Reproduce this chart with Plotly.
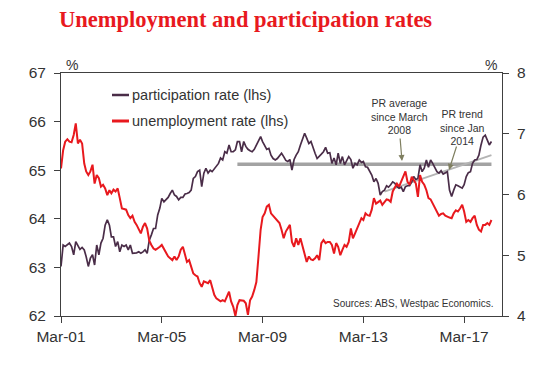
import pandas as pd
import plotly.graph_objects as go

# Monthly data, Mar 2001 onward
start_month = "2001-03-01"

participation = [
    63.02, 63.46, 63.43, 63.46, 63.50, 63.43, 63.26, 63.53, 63.46, 63.37,
    63.41, 63.36, 63.22, 63.02, 63.19, 63.26, 63.05, 63.46, 63.26, 63.50,
    63.60, 63.87, 63.98, 63.87, 63.63, 63.63, 63.43, 63.53, 63.32, 63.46,
    63.43, 63.46, 63.36, 63.46, 63.29, 63.29, 63.30, 63.32, 63.29, 63.32,
    63.36, 63.29, 63.56, 63.67, 63.80, 63.80, 64.08, 64.22, 64.42, 64.35,
    64.39, 64.44, 64.52, 64.59, 64.49, 64.46, 64.39, 64.44, 64.44, 64.51,
    64.52, 64.54, 64.59, 64.83, 64.87, 64.97, 65.00, 64.66, 64.94, 65.04,
    64.94, 65.00, 64.97, 65.02, 65.07, 65.14, 65.25, 65.21, 65.38, 65.35,
    65.52, 65.38, 65.38, 65.42, 65.59, 65.59, 65.38, 65.59, 65.49, 65.43,
    65.40, 65.38, 65.43, 65.52, 65.62, 65.69, 65.59, 65.52, 65.43, 65.45,
    65.31, 65.24, 65.21, 65.24, 65.29, 65.35, 65.28, 65.20, 65.18, 65.22,
    65.00, 65.22, 65.31, 65.38, 65.52, 65.62, 65.76, 65.66, 65.55, 65.59,
    65.45, 65.35, 65.24, 65.28, 65.33, 65.38, 65.47, 65.35, 65.36, 65.14,
    65.25, 65.11, 65.35, 65.14, 65.28, 65.11, 65.21, 65.28, 65.22, 65.04,
    65.14, 65.11, 65.21, 65.16, 65.18, 65.07, 65.06, 64.97, 64.90, 64.76,
    64.83, 64.73, 64.49, 64.56, 64.59, 64.68, 64.65, 64.70, 64.76, 64.73,
    64.66, 64.63, 64.65, 64.56, 64.66, 64.68, 64.68, 64.76, 64.87, 64.81,
    64.83, 65.11, 64.97, 65.04, 65.21, 65.06, 65.21, 65.14, 65.06, 64.97,
    64.94, 64.99, 64.92, 64.94, 64.97, 64.59, 64.46, 64.59, 64.70, 64.68,
    64.65, 64.63, 64.70, 64.87, 64.95, 64.97, 65.14, 65.21, 65.22, 65.31,
    65.52, 65.68, 65.72, 65.62, 65.52, 65.59,
]

unemployment = [
    6.43, 6.73, 6.87, 6.91, 6.87, 6.86, 6.98, 7.17, 6.84, 6.90,
    6.84, 6.51, 6.38, 6.32, 6.38, 6.49, 6.18, 6.32, 6.27, 6.13,
    6.16, 6.10, 5.99, 6.07, 6.02, 6.08, 6.05, 6.10, 5.94, 5.77,
    5.76, 5.75, 5.66, 5.61, 5.65, 5.55, 5.50, 5.44, 5.36, 5.47,
    5.53, 5.44, 5.24, 5.17, 5.11, 5.09, 5.11, 5.14, 5.17, 5.11,
    5.06, 4.98, 4.95, 4.92, 4.98, 4.92, 4.98, 5.09, 5.14, 5.00,
    4.89, 4.92, 4.81, 4.70, 4.67, 4.65, 4.54, 4.48, 4.57, 4.55,
    4.54, 4.59, 4.45, 4.35, 4.29, 4.26, 4.24, 4.26, 4.24, 4.32,
    4.40, 4.24, 4.15, 4.00, 4.18, 4.26, 4.25, 4.25, 4.21, 4.02,
    4.26, 4.32, 4.43, 4.56, 4.98, 5.42, 5.63, 5.69, 5.80, 5.83,
    5.69, 5.65, 5.62, 5.58, 5.53, 5.42, 5.28, 5.39, 5.44, 5.50,
    5.22, 5.14, 5.28, 5.17, 5.28, 5.14, 4.98, 4.89, 4.98, 4.93,
    4.92, 4.95, 5.00, 4.92, 5.20, 5.25, 5.20, 5.22, 5.22, 5.17,
    5.03, 5.20, 5.14, 5.00, 5.09, 5.17, 5.14, 5.22, 5.44, 5.28,
    5.36, 5.44, 5.55, 5.61, 5.58, 5.69, 5.66, 5.65, 5.75, 5.94,
    5.85, 5.88, 5.90, 5.83, 5.87, 5.92, 5.91, 5.88, 6.05, 6.13,
    6.18, 6.13, 6.21, 6.29, 6.38, 6.21, 6.16, 6.29, 6.24, 6.18,
    5.96, 6.32, 6.21, 6.16, 6.07, 5.94, 5.92, 5.85, 5.77, 5.69,
    5.65, 5.68, 5.69, 5.65, 5.63, 5.62, 5.61, 5.69, 5.74, 5.72,
    5.77, 5.83, 5.72, 5.55, 5.58, 5.55, 5.61, 5.65, 5.50, 5.42,
    5.39, 5.50, 5.50, 5.53, 5.50, 5.58,
]

# PR average since March 2008 and PR trend since Jan 2014
pr_avg_dates = ["2008-03-01", "2018-04-01"]
pr_avg_values = [65.12, 65.12]
pr_trend_dates = ["2014-01-01", "2018-04-01"]
pr_trend_values = [64.56, 65.31]

x_tick_dates = ["2001-03-01", "2005-03-01", "2009-03-01", "2013-03-01", "2017-03-01"]
x_tick_labels = ["Mar-01", "Mar-05", "Mar-09", "Mar-13", "Mar-17"]
left_ticks = [62, 63, 64, 65, 66, 67]
right_ticks = [4, 5, 6, 7, 8]

dates = pd.date_range(start_month, periods=len(participation), freq="MS")

PURPLE = "#4a2d48"
RED = "#e8191e"
AX = "#404040"
TXT = "#333333"
FONT = "Liberation Sans, Arial, sans-serif"

fig = go.Figure()
fig.add_trace(go.Scatter(x=pr_avg_dates, y=pr_avg_values, mode="lines",
                         line=dict(color="#a3a3a3", width=3.5), showlegend=False, yaxis="y"))
fig.add_trace(go.Scatter(x=pr_trend_dates, y=pr_trend_values, mode="lines",
                         line=dict(color="#b4b4b4", width=2), showlegend=False, yaxis="y"))
fig.add_trace(go.Scatter(x=dates, y=participation, mode="lines", name="participation rate (lhs)",
                         line=dict(color=PURPLE, width=1.7), showlegend=False, yaxis="y"))
fig.add_trace(go.Scatter(x=dates, y=unemployment, mode="lines", name="unemployment rate (lhs)",
                         line=dict(color=RED, width=2), showlegend=False, yaxis="y2"))

L, R, T, B = 61, 40, 73, 52
W, H = 542, 368
pw, ph = W - L - R, H - T - B


def px(x):
    return (x - L) / pw


def py(y):
    return (H - B - y) / ph


shapes = [
    dict(type="line", xref="paper", yref="paper", x0=px(112), x1=px(129), y0=py(95), y1=py(95),
         line=dict(color=PURPLE, width=2.5)),
    dict(type="line", xref="paper", yref="paper", x0=px(112), x1=px(129), y0=py(121), y1=py(121),
         line=dict(color=RED, width=3)),
]

annotations = [
    dict(text="participation rate (lhs)", xref="paper", yref="paper", x=px(130), y=py(95),
         xanchor="left", yanchor="middle", showarrow=False, font=dict(size=14.5, color=TXT, family=FONT)),
    dict(text="unemployment rate (lhs)", xref="paper", yref="paper", x=px(130), y=py(121),
         xanchor="left", yanchor="middle", showarrow=False, font=dict(size=14.5, color=TXT, family=FONT)),
    dict(text="%", xref="paper", yref="paper", x=px(72), y=py(65), xanchor="center", yanchor="middle",
         showarrow=False, font=dict(size=14, color=TXT, family=FONT)),
    dict(text="%", xref="paper", yref="paper", x=px(491), y=py(65), xanchor="center", yanchor="middle",
         showarrow=False, font=dict(size=14, color=TXT, family=FONT)),
    dict(text="PR average<br>since March<br>2008", xref="paper", yref="paper", x=px(399), y=py(116),
         xanchor="center", yanchor="middle", showarrow=False, align="center",
         font=dict(size=10.5, color=TXT, family=FONT)),
    dict(text="PR trend<br>since Jan<br>2014", xref="paper", yref="paper", x=px(462), y=py(127),
         xanchor="center", yanchor="middle", showarrow=False, align="center",
         font=dict(size=10.5, color=TXT, family=FONT)),
    dict(text="", xref="paper", yref="paper", x=px(402), y=py(161), ax=-2, ay=-24,
         showarrow=True, arrowhead=2, arrowsize=1, arrowwidth=1.2, arrowcolor="#7f7f60"),
    dict(text="", xref="paper", yref="paper", x=px(449), y=py(170), ax=8, ay=-25,
         showarrow=True, arrowhead=2, arrowsize=1, arrowwidth=1.2, arrowcolor="#7f7f60"),
    dict(text="Sources: ABS, Westpac Economics.", xref="paper", yref="paper", x=px(495), y=py(303),
         xanchor="right", yanchor="middle", showarrow=False, font=dict(size=10, color=TXT, family=FONT)),
]

fig.update_layout(
    width=W, height=H,
    margin=dict(l=L, r=R, t=T, b=B),
    paper_bgcolor="white", plot_bgcolor="white",
    title=dict(text="<b>Unemployment and participation rates</b>", xref="container", yref="container",
               x=59 / W, xanchor="left", y=1 - 19 / H, yanchor="middle",
               font=dict(family="Liberation Serif, Times New Roman, serif", size=22.5, color="#e8191e")),
    font=dict(family=FONT, color=TXT),
    showlegend=False,
    hovermode=False,
    shapes=shapes,
    annotations=annotations,
    xaxis=dict(type="date", range=["2001-03-01", "2018-09-01"], tickvals=x_tick_dates,
               ticktext=x_tick_labels, ticks="outside", ticklen=6, tickcolor=AX, showline=True,
               linecolor=AX, linewidth=1, mirror=True, showgrid=False, zeroline=False,
               tickfont=dict(size=15.5, color=TXT, family=FONT)),
    yaxis=dict(range=[62, 67], tickvals=left_ticks, ticks="outside", ticklen=6, tickcolor=AX,
               showline=True, linecolor=AX, linewidth=1, showgrid=False, zeroline=False,
               ticklabelstandoff=5, tickfont=dict(size=15.5, color=TXT, family=FONT)),
    yaxis2=dict(range=[4, 8], tickvals=right_ticks, overlaying="y", side="right", ticks="outside",
                ticklen=6, tickcolor=AX, showline=True, linecolor=AX, linewidth=1, showgrid=False,
                zeroline=False, ticklabelstandoff=5, tickfont=dict(size=15.5, color=TXT, family=FONT)),
)

# Remove the browser's default page margin so the figure sits at the window origin
fig.write_html("out.html", config={"displayModeBar": False},
               post_script="document.body.style.margin='0';")
